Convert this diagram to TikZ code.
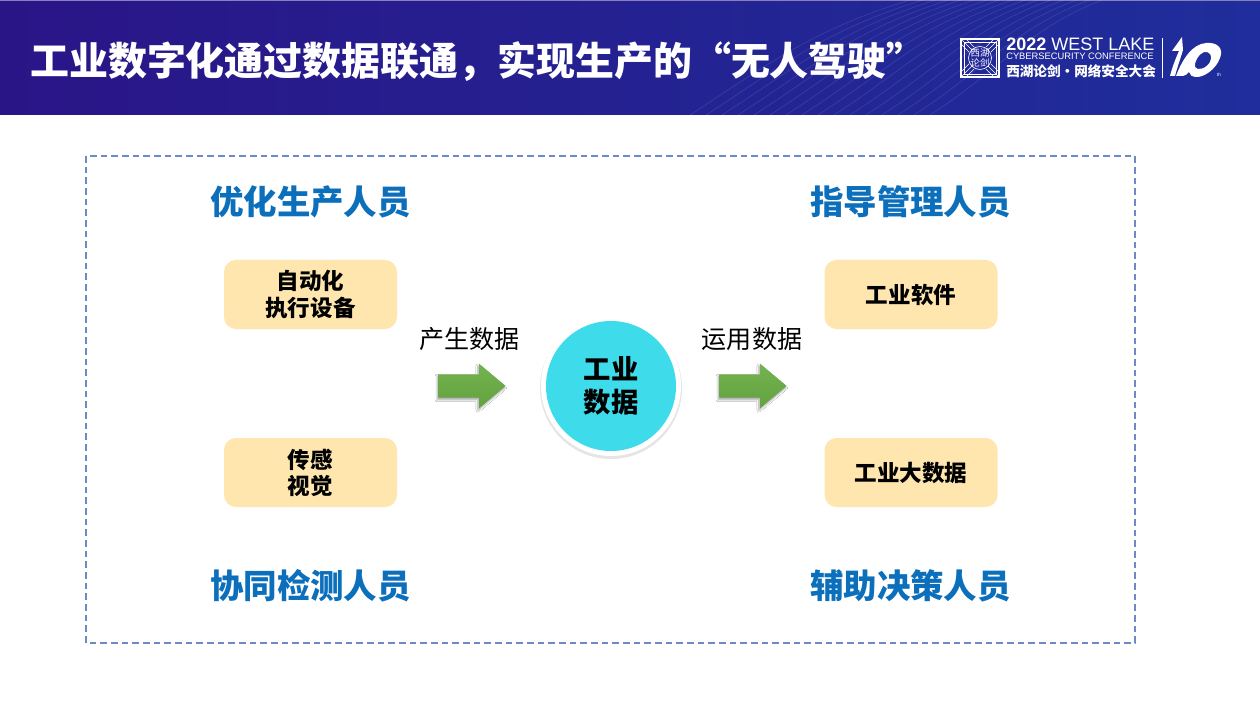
\documentclass[tikz,border=0pt]{standalone}
\usepackage{fontspec}
\setmainfont{Noto Sans CJK SC}
\newfontfamily\latinfont{Liberation Sans}
\usetikzlibrary{shapes.arrows,shadows.blur}
\definecolor{headL}{HTML}{2A1587}
\definecolor{headR}{HTML}{1F2E9C}
\definecolor{boxfill}{HTML}{FEE6AE}
\definecolor{headblue}{HTML}{0B6FBC}
\definecolor{dashc}{HTML}{6C8AC6}
\definecolor{disc}{HTML}{3EDBEA}
\definecolor{arrowT}{HTML}{74B34F}
\definecolor{arrowB}{HTML}{62A23F}
\tikzset{
  x=0.75pt,y=-0.75pt,
  itembox/.style={draw=none,fill=boxfill,rounded corners=9pt,minimum width=129.75pt,minimum height=51.75pt,align=center,font=\fontsize{16.9pt}{19.6pt}\bfseries,inner sep=0pt},
  grouphead/.style={text=headblue,font=\fontsize{25.1pt}{30pt}\bfseries,inner sep=0pt},
  flowlabel/.style={font=\fontsize{18.8pt}{22pt}\selectfont,inner sep=0pt},
  flowarrow/.style={single arrow,anchor=tip,minimum height=50.5pt,inner xsep=0pt,inner ysep=8.6pt,single arrow head extend=7.9pt,single arrow tip angle=80,top color=arrowT,bottom color=arrowB,draw=none,blur shadow={shadow xshift=-0.8pt,shadow yshift=-1.5pt,shadow blur steps=6,shadow blur radius=1.5pt,shadow opacity=35}},
  logoline/.style={draw=white,line width=0.5pt}
}
\begin{document}
\begin{tikzpicture}
\useasboundingbox (0,0) rectangle (1260,709);
\fill[white] (0,0) rectangle (1260,709);
% header band
\shade[left color=headL,right color=headR] (0,0) rectangle (1260,115);
\fill[headL!55!white] (0,0) rectangle (1260,1);
\begin{scope}
\clip (0,1) rectangle (1260,115);
\foreach \d in {0,16,...,240}{
  \draw[white,opacity=0.13,line width=0.4pt] (690+\d,115) .. controls (760+\d,70) and (810+\d*0.9,30) .. (910+\d*0.8,0);
}
\end{scope}
\node[anchor=west,text=white,inner sep=0pt,font=\fontsize{29.2pt}{34pt}\bfseries] (title) at (30,62) {工业数字化通过数据联通，实现生产的“无人驾驶”};
% logo
\draw[logoline,line width=0.9pt] (961,39) rectangle (999,77);
\draw[logoline] (964,42) rectangle (996,74);
\draw[logoline] (980,58) circle (11.5);
\draw[logoline] (961,39) -- (972,50) (999,39) -- (988,50) (961,77) -- (972,66) (999,77) -- (988,66);
\draw[logoline] (966,39) -- (974,47) (994,39) -- (986,47) (966,77) -- (974,69) (994,77) -- (986,69);
\draw[logoline] (961,44) -- (969,52) (999,44) -- (991,52) (961,72) -- (969,64) (999,72) -- (991,64);
\node[text=white,inner sep=0pt,align=center,font=\fontsize{7pt}{8.2pt}\selectfont] (lg0) at (980,58) {西湖\\论剑};
\node[anchor=west,text=white,inner sep=0pt,font=\fontsize{13.5pt}{14pt}\latinfont] (lg1) at (1006,44) {\textbf{2022} WEST LAKE};
\node[anchor=west,text=white,inner sep=0pt,font=\fontsize{7pt}{8pt}\latinfont] (lg2) at (1006,56.5) {CYBERSECURITY CONFERENCE};
\node[anchor=west,text=white,inner sep=0pt,font=\fontsize{10.2pt}{11pt}\bfseries] (lg3) at (1006,71) {西湖论剑·网络安全大会};
\draw[white,line width=0.6pt] (1162,38) -- (1162,78);
% "10" mark
\fill[white] (1170,76) .. controls (1172,68) and (1175,60) .. (1179,51) -- (1172,51) -- (1182,37) -- (1183,50) .. controls (1180,60) and (1177,68) .. (1175,76) -- cycle;
\fill[white,even odd rule] (1176,76) .. controls (1182,60) and (1192,44) .. (1206,43) .. controls (1217,42) and (1224,48) .. (1220,58) .. controls (1216,69) and (1204,78) .. (1195,77) .. controls (1192,77) and (1190,75) .. (1189,72) .. controls (1187,74) and (1185,76) .. (1183,76) -- cycle
  (1204,52) .. controls (1198,54) and (1194,63) .. (1195,67) .. controls (1197,71) and (1206,69) .. (1210,62) .. controls (1213,56) and (1210,51) .. (1204,52) -- cycle;
\node[text=white,inner sep=0pt,font=\fontsize{3.5pt}{4pt}\latinfont] (lgth) at (1219,74.5) {th};
% dashed frame
\draw[dashc,line width=1.1pt,dash pattern=on 5pt off 3pt] (86,156) rectangle (1135,643);
% group headings
\node[grouphead] (h1) at (310.5,202) {优化生产人员};
\node[grouphead] (h2) at (910.5,202) {指导管理人员};
\node[grouphead] (h3) at (310.5,586) {协同检测人员};
\node[grouphead] (h4) at (910.5,586) {辅助决策人员};
% item boxes
\node[itembox] (b1) at (310.5,294.5) {自动化\\执行设备};
\node[itembox] (b2) at (911,294.5) {工业软件};
\node[itembox] (b3) at (310.5,472.5) {传感\\视觉};
\node[itembox] (b4) at (911,472.5) {工业大数据};
% flow labels
\node[flowlabel] (l1) at (469.5,339.5) {产生数据};
\node[flowlabel] (l2) at (752,339.5) {运用数据};
% arrows
\node[flowarrow] (a1) at (506,386) {};
\node[flowarrow] (a2) at (787,386) {};
% central disc
\fill[black,opacity=0.10] (611,388) circle (71);
\node[circle,fill=white,minimum size=105pt,inner sep=0pt] (c0) at (611,386) {};
\node[circle,fill=disc,minimum size=97.5pt,inner sep=0pt,align=center,font=\fontsize{20.5pt}{24.75pt}\bfseries] (c1) at (611,386) {工业\\数据};
\end{tikzpicture}
\end{document}
